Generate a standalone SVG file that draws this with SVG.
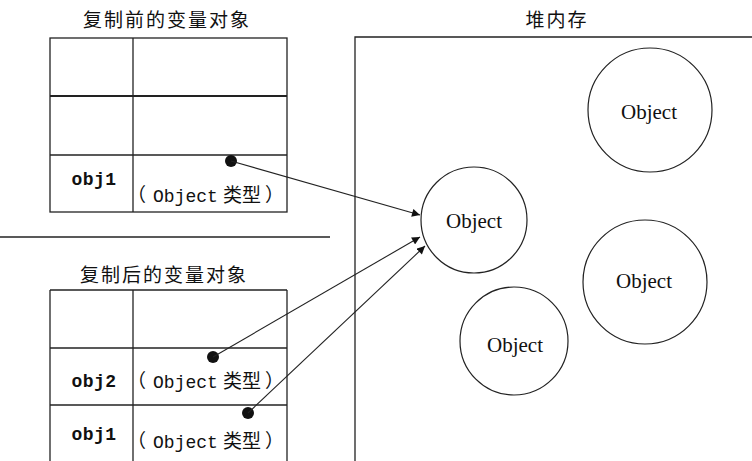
<svg xmlns="http://www.w3.org/2000/svg" width="752" height="461" viewBox="0 0 752 461">
<style>
.title{font-family:"Noto Sans CJK SC",sans-serif;font-size:19px;letter-spacing:2px;fill:#111;text-anchor:middle}
.cell{fill:none;stroke:#222;stroke-width:1.3}
.name{font-family:"Liberation Mono","Noto Sans CJK SC",monospace;font-weight:bold;font-size:18px;letter-spacing:0.5px;fill:#111;text-anchor:middle}
.type{font-family:"Noto Sans CJK SC",sans-serif;font-size:19px;fill:#111}
.mono{font-family:"Liberation Mono",monospace;font-size:18px}
.circ{fill:#fff;stroke:#222;stroke-width:1.2}
.obj{font-family:"Liberation Serif",serif;font-size:21px;fill:#111;text-anchor:middle}
.conn{stroke:#222;stroke-width:1.1;fill:none;marker-end:url(#arr)}
</style>
<defs>
<marker id="arr" viewBox="0 0 10 10" refX="10" refY="5" markerWidth="9" markerHeight="8" markerUnits="userSpaceOnUse" orient="auto">
<path d="M0,0 L10,5 L0,10 z" fill="#111"/>
</marker>
</defs>
<rect width="752" height="461" fill="#fff"/>

<g id="before-table">
<text class="title" x="167" y="27">复制前的变量对象</text>
<rect class="cell" x="50" y="38" width="237" height="174"/>
<line class="cell" x1="133" y1="38" x2="133" y2="212"/>
<line class="cell" x1="50" y1="96" x2="287" y2="96" style="stroke-width:2.2"/>
<line class="cell" x1="50" y1="155" x2="287" y2="155"/>
<text class="name" x="94" y="185">obj1</text>
<text class="type" y="202"><tspan x="127">（</tspan><tspan class="mono" x="153">Object</tspan><tspan x="223">类型</tspan><tspan x="265">）</tspan></text>
<circle cx="231" cy="161" r="6" fill="#111"/>
</g>

<line id="separator" x1="0" y1="237" x2="330" y2="237" stroke="#222" stroke-width="1.3"/>

<g id="after-table">
<text class="title" x="164" y="282">复制后的变量对象</text>
<line class="cell" x1="50" y1="290" x2="287" y2="290"/>
<line class="cell" x1="50" y1="290" x2="50" y2="461"/>
<line class="cell" x1="287" y1="290" x2="287" y2="461"/>
<line class="cell" x1="133" y1="290" x2="133" y2="461"/>
<line class="cell" x1="50" y1="348" x2="287" y2="348"/>
<line class="cell" x1="50" y1="405" x2="287" y2="405"/>
<text class="name" x="94" y="387">obj2</text>
<text class="type" y="388"><tspan x="127">（</tspan><tspan class="mono" x="153">Object</tspan><tspan x="223">类型</tspan><tspan x="265">）</tspan></text>
<circle cx="213" cy="357" r="6" fill="#111"/>
<text class="name" x="94" y="440">obj1</text>
<text class="type" y="448"><tspan x="127">（</tspan><tspan class="mono" x="153">Object</tspan><tspan x="223">类型</tspan><tspan x="265">）</tspan></text>
<circle cx="248" cy="413" r="6" fill="#111"/>
</g>

<g id="heap">
<text class="title" x="557" y="27">堆内存</text>
<polyline points="355,461 355,37 752,37" fill="none" stroke="#222" stroke-width="1.3"/>
</g>

<g id="obj-top-right">
<circle class="circ" cx="650" cy="110" r="62"/>
<text class="obj" x="649" y="119">Object</text>
</g>
<g id="obj-target">
<circle class="circ" cx="474" cy="220" r="53"/>
<text class="obj" x="474" y="228">Object</text>
</g>
<g id="obj-right">
<circle class="circ" cx="645" cy="282" r="62"/>
<text class="obj" x="644" y="288">Object</text>
</g>
<g id="obj-bottom">
<circle class="circ" cx="514" cy="341" r="54"/>
<text class="obj" x="515" y="352">Object</text>
</g>

<g id="connectors">
<line class="conn" x1="231" y1="161" x2="420" y2="215"/>
<line class="conn" x1="213" y1="357" x2="420" y2="237"/>
<line class="conn" x1="248" y1="413" x2="425" y2="246"/>
</g>
</svg>
